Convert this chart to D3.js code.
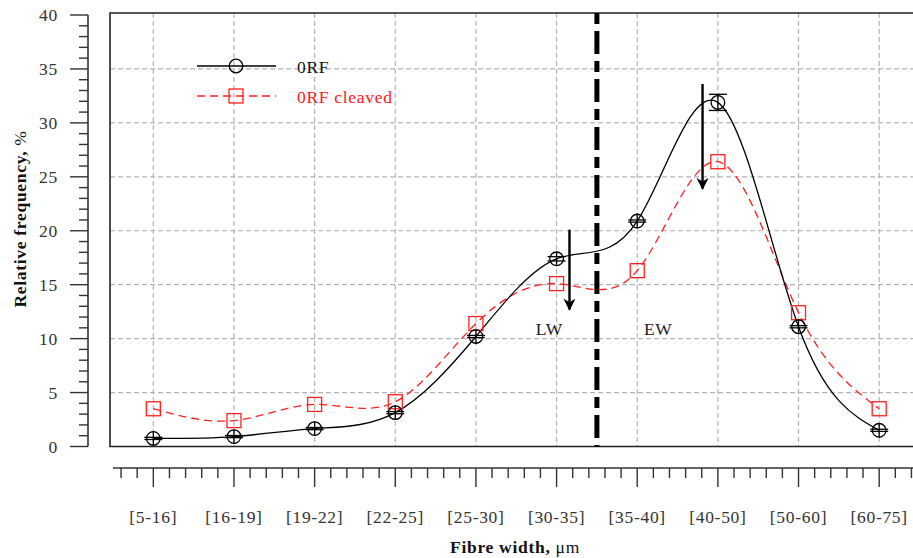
<!DOCTYPE html>
<html>
<head>
<meta charset="utf-8">
<script src="https://cdn.jsdelivr.net/npm/d3@7"></script>
<style>
  html, body { margin: 0; padding: 0; background: #fff; }
  svg text { font-family: "Liberation Serif", "Times New Roman", serif; }
</style>
</head>
<body>
<svg id="chart" width="913" height="558"></svg>
<script>
// ---- data ----
const categories = ["[5-16]", "[16-19]", "[19-22]", "[22-25]", "[25-30]", "[30-35]", "[35-40]", "[40-50]", "[50-60]", "[60-75]"];
const orfValues = [0.75, 0.92, 1.66, 3.14, 10.2, 17.4, 20.9, 31.9, 11.1, 1.5];
const orfErrors = [0.1, 0.1, 0.1, 0.1, 0.1, 0.2, 0.1, 0.75, 0.1, 0.1];
const cleavedValues = [3.5, 2.4, 3.9, 4.15, 11.4, 15.1, 16.3, 26.4, 12.4, 3.5];
const yTicks = [0, 5, 10, 15, 20, 25, 30, 35, 40];
const seriesNames = ["0RF", "0RF cleaved"];
const dividerPos = 5.5;                 // between [30-35] and [35-40]
const arrows = [{x: 5.16, y1: 20.1, y2: 12.7}, {x: 6.81, y1: 33.6, y2: 23.9}];
const zoneLabels = [{x: 4.91, y: 10.3, text: "LW"}, {x: 6.26, y: 10.3, text: "EW"}];

// ---- layout ----
const svg = d3.select("#chart");
const pL = 110, pR = 919, pT = 13, pB = 446.5;
const x = d3.scaleLinear().domain([-0.5, categories.length - 0.5]).range([113, 919.5]);
const y = d3.scaleLinear().domain([0, 40]).range([pB, 15]);
const fs = 17.5;
const ls = 0.7;

// grid
const grid = svg.append("g");
grid.selectAll("line.h").data(yTicks.filter(d => d > 0 && d < 40)).join("line")
  .attr("x1", pL).attr("x2", pR).attr("y1", d => y(d)).attr("y2", d => y(d))
  .attr("stroke", "#b3b3b3").attr("stroke-width", 1.2).attr("stroke-dasharray", "5,3");
grid.selectAll("line.v").data(categories.map((c, i) => i)).join("line")
  .attr("x1", d => x(d)).attr("x2", d => x(d)).attr("y1", pT).attr("y2", pB)
  .attr("stroke", "#b3b3b3").attr("stroke-width", 1.2).attr("stroke-dasharray", "5,3");

// frame (top, left, bottom)
svg.append("path").attr("d", `M${pR},${pT}H${pL}V${pB}H${pR}`)
  .attr("fill", "none").attr("stroke", "#222").attr("stroke-width", 1.6);

// divider
svg.append("line").attr("x1", x(dividerPos)).attr("x2", x(dividerPos)).attr("y1", pT).attr("y2", pB)
  .attr("stroke", "#000").attr("stroke-width", 5).attr("stroke-dasharray", "11,7,23,7");

// lines
const line = d3.line().x((d, i) => x(i)).y(d => y(d)).curve(d3.curveNatural);
svg.append("path").datum(cleavedValues).attr("d", line).attr("fill", "none")
  .attr("stroke", "#ff2020").attr("stroke-width", 1.3).attr("stroke-dasharray", "8,5");
svg.append("path").datum(orfValues).attr("d", line).attr("fill", "none")
  .attr("stroke", "#000").attr("stroke-width", 1.3);

// red squares
const sq = 14;
svg.selectAll("rect.sq").data(cleavedValues).join("rect")
  .attr("x", (d, i) => x(i) - sq / 2).attr("y", d => y(d) - sq / 2)
  .attr("width", sq).attr("height", sq).attr("fill", "none")
  .attr("stroke", "#ff2020").attr("stroke-width", 1.3);

// black circles with error bars
const r = 6.8;
const eb = svg.append("g");
orfValues.forEach((v, i) => {
  const cx = x(i), cy = y(v);
  const yTop = Math.min(y(v + orfErrors[i]), cy - r - 0.5);
  const yBot = Math.max(y(v - orfErrors[i]), cy + r + 0.5);
  eb.append("line").attr("x1", cx).attr("x2", cx).attr("y1", yTop).attr("y2", yBot)
    .attr("stroke", "#000").attr("stroke-width", 1.3);
  [v + orfErrors[i], v - orfErrors[i]].forEach(e => {
    eb.append("line").attr("x1", cx - 9).attr("x2", cx + 9).attr("y1", y(e)).attr("y2", y(e))
      .attr("stroke", "#000").attr("stroke-width", 1.3);
  });
  eb.append("circle").attr("cx", cx).attr("cy", cy).attr("r", r)
    .attr("fill", "none").attr("stroke", "#000").attr("stroke-width", 1.3);
});

// arrows
const defs = svg.append("defs");
defs.append("marker").attr("id", "ah").attr("viewBox", "0 0 10 10").attr("refX", 9).attr("refY", 5)
  .attr("markerWidth", 5).attr("markerHeight", 5.5).attr("orient", "auto").attr("markerUnits", "strokeWidth")
  .append("path").attr("d", "M0,0L10,5L0,10L3,5Z").attr("fill", "#000");
arrows.forEach(a => {
  svg.append("line").attr("x1", x(a.x)).attr("x2", x(a.x)).attr("y1", y(a.y1)).attr("y2", y(a.y2))
    .attr("stroke", "#000").attr("stroke-width", 2.4).attr("marker-end", "url(#ah)");
});

// zone labels
svg.selectAll("text.zone").data(zoneLabels).join("text")
  .attr("x", d => x(d.x)).attr("y", d => y(d.y)).attr("text-anchor", "middle")
  .attr("font-size", fs).attr("fill", "#222").attr("letter-spacing", ls).text(d => d.text);

// y axis (offset)
const yAxisX = 88;
const yAxis = svg.append("g").attr("transform", `translate(${yAxisX},0)`);
yAxis.append("line").attr("x1", 0).attr("x2", 0).attr("y1", y(40)).attr("y2", y(0))
  .attr("stroke", "#333").attr("stroke-width", 1.6);
yAxis.selectAll("line.minor").data(d3.range(0, 41)).join("line")
  .attr("x1", d => (d % 5 === 0 ? -18 : -9)).attr("x2", 0)
  .attr("y1", d => y(d)).attr("y2", d => y(d)).attr("stroke", "#333").attr("stroke-width", 1.4);
yAxis.selectAll("text").data(yTicks).join("text")
  .attr("x", -30).attr("y", d => y(d)).attr("dy", "0.36em").attr("text-anchor", "end")
  .attr("font-size", fs).attr("fill", "#333").attr("letter-spacing", ls).text(d => d);

// x axis (offset)
const xAxisY = 468;
const xAxis = svg.append("g").attr("transform", `translate(0,${xAxisY})`);
xAxis.append("line").attr("x1", x(-0.5)).attr("x2", 913).attr("y1", 0).attr("y2", 0)
  .attr("stroke", "#333").attr("stroke-width", 1.6);
const minorX = d3.range(-2, categories.length * 5 + 3).map(k => k / 5).filter(t => x(t) > pL + 4 && x(t) < 913);
xAxis.selectAll("line.t").data(minorX).join("line")
  .attr("x1", d => x(d)).attr("x2", d => x(d)).attr("y1", 0)
  .attr("y2", d => (Math.abs(d - Math.round(d)) < 1e-6 ? 19 : 10))
  .attr("stroke", "#333").attr("stroke-width", 1.4);
xAxis.selectAll("text").data(categories).join("text")
  .attr("x", (d, i) => x(i)).attr("y", 55).attr("text-anchor", "middle")
  .attr("font-size", fs).attr("fill", "#333").attr("letter-spacing", ls).text(d => d);

// axis titles
const xt = svg.append("text").attr("x", 515).attr("y", 553).attr("text-anchor", "middle")
  .attr("font-size", fs).attr("fill", "#111").attr("letter-spacing", ls);
xt.append("tspan").attr("font-weight", "bold").text("Fibre width,");
xt.append("tspan").text(" μm");
const yt = svg.append("text").attr("transform", "translate(26,219) rotate(-90)").attr("text-anchor", "middle")
  .attr("font-size", fs).attr("fill", "#111").attr("letter-spacing", ls);
yt.append("tspan").attr("font-weight", "bold").text("Relative frequency,");
yt.append("tspan").text(" %");

// legend
const lg = svg.append("g");
const legendItems = [
  {name: seriesNames[0], color: "#000", dash: null, sym: "circle", yy: 66},
  {name: seriesNames[1], color: "#ff2020", dash: "8,5", sym: "square", yy: 96}
];
legendItems.forEach(it => {
  lg.append("line").attr("x1", 197).attr("x2", 276).attr("y1", it.yy).attr("y2", it.yy)
    .attr("stroke", it.color).attr("stroke-width", 1.3).attr("stroke-dasharray", it.dash);
  if (it.sym === "circle") {
    lg.append("circle").attr("cx", 236).attr("cy", it.yy).attr("r", r).attr("fill", "none")
      .attr("stroke", it.color).attr("stroke-width", 1.3);
  } else {
    lg.append("rect").attr("x", 236 - sq / 2).attr("y", it.yy - sq / 2).attr("width", sq).attr("height", sq)
      .attr("fill", "none").attr("stroke", it.color).attr("stroke-width", 1.3);
  }
  lg.append("text").attr("x", 297).attr("y", it.yy).attr("dy", "0.38em")
    .attr("font-size", fs).attr("fill", it.color === "#000" ? "#111" : "#ff2020")
    .attr("letter-spacing", ls).text(it.name);
});
</script>
</body>
</html>
